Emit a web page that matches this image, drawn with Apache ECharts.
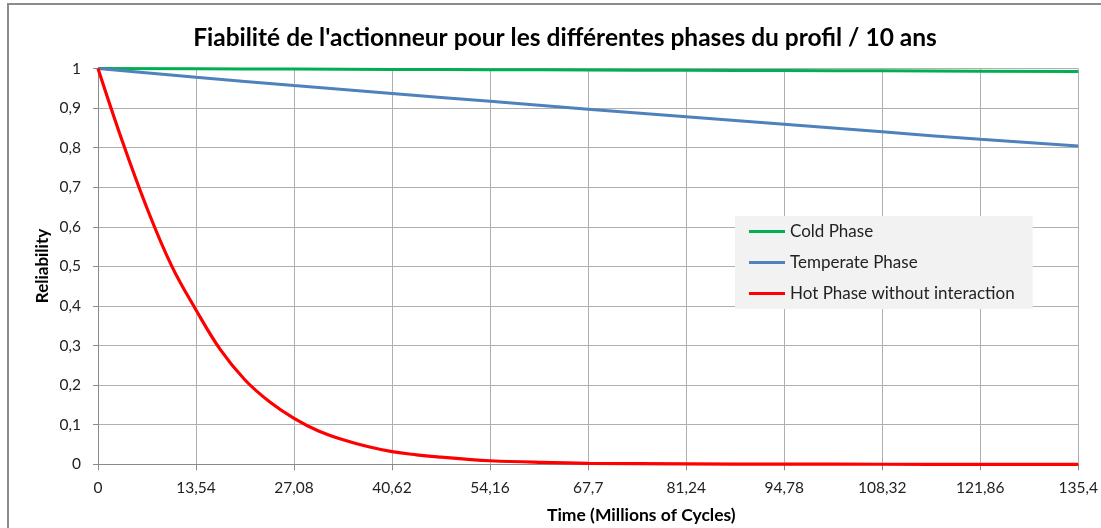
<!DOCTYPE html>
<html>
<head>
<meta charset="utf-8">
<script src="https://cdn.jsdelivr.net/npm/echarts@6/dist/echarts.min.js"></script>
<style>
html,body{margin:0;padding:0;background:#fff;}
#chart{width:1101px;height:528px;}
</style>
</head>
<body>
<div id="chart"></div>
<script>
// ---- data ----
const titleText = "Fiabilité de l'actionneur pour les différentes phases du profil / 10 ans";
const xAxisName = "Time (Millions of Cycles)";
const yAxisName = "Reliability";
const seriesNames = ["Cold Phase", "Temperate Phase", "Hot Phase without interaction"];
const timeTicks = [0, 13.54, 27.08, 40.62, 54.16, 67.7, 81.24, 94.78, 108.32, 121.86, 135.4];
const coldPhase = [1, 0.9992, 0.9985, 0.9977, 0.997, 0.9962, 0.9955, 0.9947, 0.994, 0.9932, 0.9924];
const temperatePhase = [1, 0.978, 0.957, 0.937, 0.917, 0.897, 0.878, 0.859, 0.840, 0.821, 0.804];
const hotTime = [0, 3.385, 6.77, 10.155, 13.54, 16.925, 20.31, 23.695, 27.08, 30.465, 33.85, 37.235, 40.62, 44.005, 47.39, 50.775, 54.16, 60.93, 67.7, 81.24, 94.78, 108.32, 121.86, 135.4];
const hotPhase = [1, 0.815, 0.647, 0.502, 0.39, 0.289, 0.213, 0.158, 0.116, 0.084, 0.062, 0.045, 0.032, 0.024, 0.018, 0.013, 0.009, 0.005, 0.0025, 0.001, 0.0004, 0.0001, 0, 0];
const colors = ["#00b050", "#4f81bd", "#ff0000"];

const zip = (xs, ys) => xs.map((x, i) => [x, ys[i]]);
const fmtComma = v => (Math.round(v * 100) / 100).toString().replace('.', ',');
const FONT = 'Lato';

const chart = echarts.init(document.getElementById('chart'), null, {renderer: 'canvas'});
chart.setOption({
  animation: false,
  backgroundColor: '#ffffff',
  title: {
    text: titleText,
    left: 560, top: 21, textAlign: 'center',
    textStyle: {fontFamily: FONT, fontWeight: 'bold', fontSize: 24.5, color: '#000'}
  },
  grid: {left: 98, right: 21, top: 68.5, bottom: 63.7, containLabel: false},
  legend: {
    data: seriesNames,
    orient: 'vertical',
    left: 735, top: 216,
    backgroundColor: '#f2f2f2',
    padding: [7, 18, 7, 14],
    itemGap: 14,
    itemWidth: 36, itemHeight: 3,
    icon: 'rect',
    textStyle: {fontFamily: FONT, fontSize: 17, color: '#222', lineHeight: 17}
  },
  xAxis: {
    type: 'value', min: 0, max: 135.4, interval: 13.54,
    axisLine: {show: true, lineStyle: {color: '#8a8a8a', width: 1}},
    axisTick: {show: true, length: 6, lineStyle: {color: '#8a8a8a'}},
    axisLabel: {formatter: fmtComma, margin: 16, fontFamily: FONT, fontSize: 15.5, color: '#222', showMaxLabel: true, showMinLabel: true},
    splitLine: {show: true, lineStyle: {color: '#b0b0b0', width: 1}}
  },
  yAxis: {
    type: 'value', min: 0, max: 1, interval: 0.1,
    axisLine: {show: true, lineStyle: {color: '#8a8a8a', width: 1}},
    axisTick: {show: true, length: 5, lineStyle: {color: '#8a8a8a'}},
    axisLabel: {formatter: fmtComma, margin: 17, fontFamily: FONT, fontSize: 15.5, color: '#222'},
    splitLine: {show: true, lineStyle: {color: '#b0b0b0', width: 1}}
  },
  graphic: [
    {type: 'rect', silent: true, z: -10, shape: {x: 8, y: 4, width: 1200, height: 600}, style: {fill: 'none', stroke: '#8c8c8c', lineWidth: 2}},
    {type: 'text', left: 547, top: 506, style: {text: xAxisName, fontFamily: FONT, fontWeight: 'bold', fontSize: 17.5, fill: '#000'}},
    {type: 'text', x: 43, y: 266, rotation: Math.PI / 2, style: {text: yAxisName, fontFamily: FONT, fontWeight: 'bold', fontSize: 17, fill: '#000', align: 'center', verticalAlign: 'middle'}}
  ],
  series: [
    {name: seriesNames[0], type: 'line', data: zip(timeTicks, coldPhase), showSymbol: false, smooth: true, lineStyle: {width: 3, color: colors[0]}, itemStyle: {color: colors[0]}},
    {name: seriesNames[1], type: 'line', data: zip(timeTicks, temperatePhase), showSymbol: false, smooth: true, lineStyle: {width: 3, color: colors[1]}, itemStyle: {color: colors[1]}},
    {name: seriesNames[2], type: 'line', data: zip(hotTime, hotPhase), showSymbol: false, smooth: 0.4, lineStyle: {width: 3.2, color: colors[2]}, itemStyle: {color: colors[2]}, z: 3}
  ]
});
</script>
</body>
</html>
